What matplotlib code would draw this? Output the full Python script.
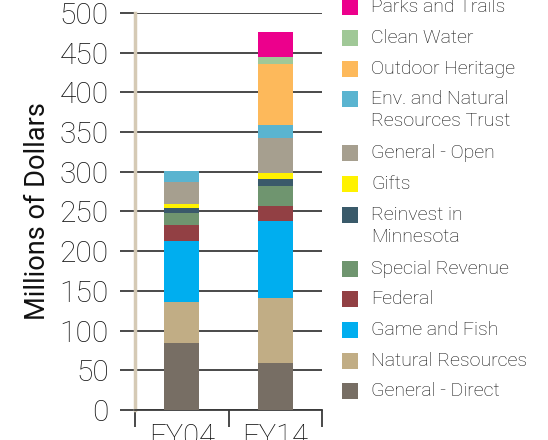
import matplotlib
matplotlib.use('Agg')
import matplotlib.pyplot as plt
from matplotlib.patches import Rectangle
from matplotlib import font_manager
import numpy as np

# 회계연도별 자금원 (백만 달러)
categories = ['FY04', 'FY14']
general_direct = [84, 59]
natural_resources = [52, 82]
game_and_fish = [76.5, 96.5]
federal = [20, 20]
special_revenue = [15, 24]
reinvest = [6.5, 9.5]
gifts = [5.5, 8]
general_open = [27.5, 43]
env_trust = [13.5, 17.5]
outdoor_heritage = [0, 76.5]
clean_water = [0, 9]
parks_trails = [0, 31]

series = [
    ('General - Direct', general_direct, '#776e64'),
    ('Natural Resources', natural_resources, '#c1ad85'),
    ('Game and Fish', game_and_fish, '#00aeef'),
    ('Federal', federal, '#924044'),
    ('Special Revenue', special_revenue, '#6f956f'),
    ('Reinvest in\nMinnesota', reinvest, '#3a5a6a'),
    ('Gifts', gifts, '#fff200'),
    ('General - Open', general_open, '#a69f8f'),
    ('Env. and Natural\nResources Trust', env_trust, '#5ab4d0'),
    ('Outdoor Heritage', outdoor_heritage, '#fdb95b'),
    ('Clean Water', clean_water, '#a0c897'),
    ('Parks and Trails', parks_trails, '#ec008c'),
]

names = [f.name for f in font_manager.fontManager.ttflist]
fam = 'Roboto' if 'Roboto' in names else 'DejaVu Sans'
plt.rcParams['font.family'] = [fam, 'DejaVu Sans']
plt.rcParams['font.weight'] = 'light'

W, H = 548, 440
fig = plt.figure(figsize=(W / 100, H / 100), dpi=100)
ax = fig.add_axes([135 / W, 1 - 410 / H, (322 - 135) / W, (410 - 13) / H])

dark = '#3a3a3a'
txt = '#111111'
x = np.arange(len(categories))
bottom = np.zeros(len(categories))
for name, vals, col in series:
    ax.bar(x, vals, 0.375, bottom=bottom, color=col, zorder=3)
    bottom += np.array(vals)

ax.set_xlim(-0.5, 1.5)
ax.set_ylim(0, 500)
ax.set_yticks(range(0, 501, 50))
ax.grid(axis='y', color=dark, linewidth=1.3, zorder=1)
ax.tick_params(axis='y', length=11, width=1.3, color=dark, labelsize=21.5, pad=8, labelcolor=txt)

ax.set_xticks(x)
ax.set_xticklabels(categories)
ax.set_xticks([-0.5, 0.5, 1.5], minor=True)
ax.tick_params(axis='x', which='major', length=0, labelsize=21, pad=9, labelcolor=txt)
ax.tick_params(axis='x', which='minor', length=12, width=1.3, color=dark)

for s in ['top', 'right']:
    ax.spines[s].set_visible(False)
ax.spines['left'].set_color('#d5cab5')
ax.spines['left'].set_linewidth(2.5)
ax.spines['left'].set_zorder(2)
ax.spines['bottom'].set_color(dark)
ax.spines['bottom'].set_linewidth(1.3)

ax.set_ylabel('Millions of Dollars', fontsize=19.5, color=txt, labelpad=6)

# 범례 (수동)
yc = 7.5
for name, vals, col in series[::-1]:
    fig.add_artist(Rectangle((342 / W, 1 - (yc + 8) / H), 16 / W, 16 / H,
                             transform=fig.transFigure, color=col, lw=0))
    for i, line in enumerate(name.split('\n')):
        fig.text(371 / W, 1 - (yc + 22 * i) / H, line, fontsize=14,
                 va='center', ha='left', color=txt)
    yc += 30.6 + 23.5 * name.count('\n')

fig.savefig('out.png', dpi=100)
